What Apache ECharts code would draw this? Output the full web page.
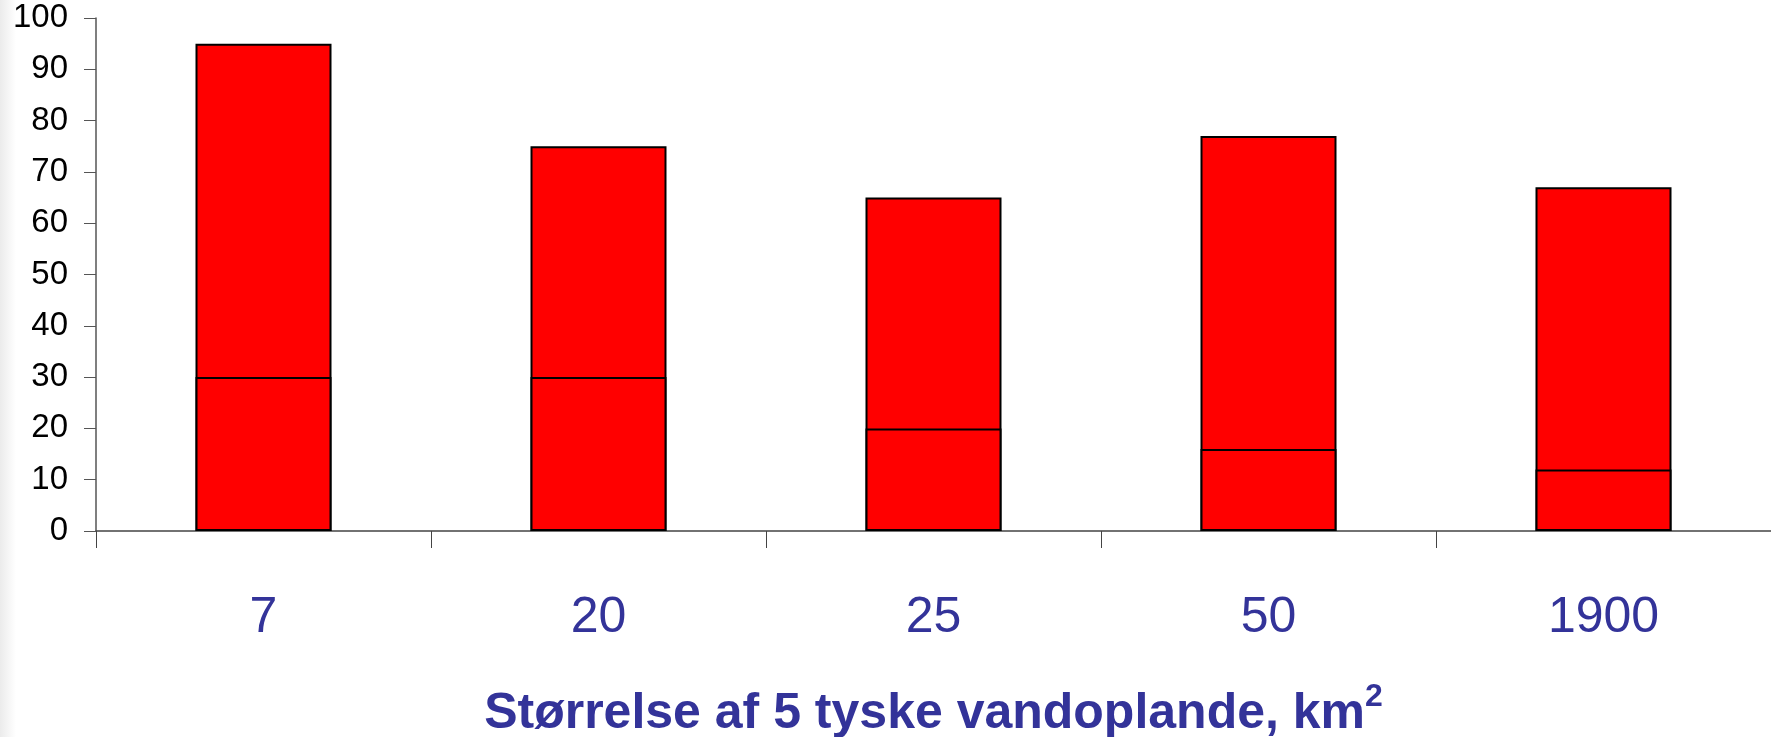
<!DOCTYPE html>
<html>
<head>
<meta charset="utf-8">
<script src="https://cdn.jsdelivr.net/npm/echarts@6/dist/echarts.min.js"></script>
<style>
    html, body { margin: 0; padding: 0; background: #fff; }
    #main { width: 1771px; height: 737px; }
</style>
</head>
<body>
<div id="main"></div>
<script>
// vandoplande, km2
const categories = ['7', '20', '25', '50', '1900'];
const totalValues = [95, 75, 65, 77, 67];
const lowerValues = [30, 30, 20, 16, 12];
const yTicks = [0, 100, 10]; // min, max, interval

const chart = echarts.init(document.getElementById('main'));

const barStyle = {
    color: '#ff0000',
    borderColor: '#000',
    borderWidth: 2
};

const option = {
    backgroundColor: '#fff',
    animation: false,
    textStyle: { fontFamily: 'Liberation Sans, Arial, sans-serif' },
    graphic: [{
        type: 'rect',
        left: 0,
        top: 0,
        shape: { width: 16, height: 737 },
        style: {
            fill: new echarts.graphic.LinearGradient(0, 0, 1, 0, [
                { offset: 0, color: '#ebebeb' },
                { offset: 1, color: '#ffffff' }
            ])
        },
        z: -10
    }],
    grid: {
        left: 96, top: 18, right: 0, bottom: 206,
        containLabel: false,
        outerBoundsMode: 'none'
    },
    xAxis: {
        type: 'category',
        data: categories,
        axisLine: { lineStyle: { color: '#444', width: 1.5 } },
        axisTick: { show: true, length: 17, lineStyle: { color: '#444', width: 1 } },
        axisLabel: {
            margin: 62,
            fontSize: 50,
            color: '#333399',
            fontFamily: 'Liberation Sans, Arial, sans-serif'
        },
        name: '{t|Størrelse af 5 tyske vandoplande, km}{s|2}',
        nameLocation: 'middle',
        nameGap: 150,
        nameTextStyle: {
            rich: {
                t: {
                    fontSize: 50,
                    fontWeight: 'bold',
                    color: '#333399',
                    fontFamily: 'Liberation Sans, Arial, sans-serif'
                },
                s: {
                    fontSize: 32,
                    fontWeight: 'bold',
                    color: '#333399',
                    verticalAlign: 'top',
                    padding: [0, 0, 34, 0],
                    fontFamily: 'Liberation Sans, Arial, sans-serif'
                }
            }
        }
    },
    yAxis: {
        type: 'value',
        min: yTicks[0],
        max: yTicks[1],
        interval: yTicks[2],
        splitLine: { show: false },
        axisLine: { show: true, lineStyle: { color: '#555', width: 1.5 } },
        axisTick: { show: true, length: 12, lineStyle: { color: '#555' } },
        axisLabel: {
            margin: 28,
            fontSize: 33,
            color: '#000',
            fontFamily: 'Liberation Sans, Arial, sans-serif'
        }
    },
    series: [
        {
            type: 'bar',
            data: totalValues,
            barWidth: 136,
            barGap: '-100%',
            itemStyle: barStyle,
            z: 2
        },
        {
            type: 'bar',
            data: lowerValues,
            barWidth: 136,
            barGap: '-100%',
            itemStyle: barStyle,
            z: 3
        }
    ]
};

chart.setOption(option);
</script>
</body>
</html>
